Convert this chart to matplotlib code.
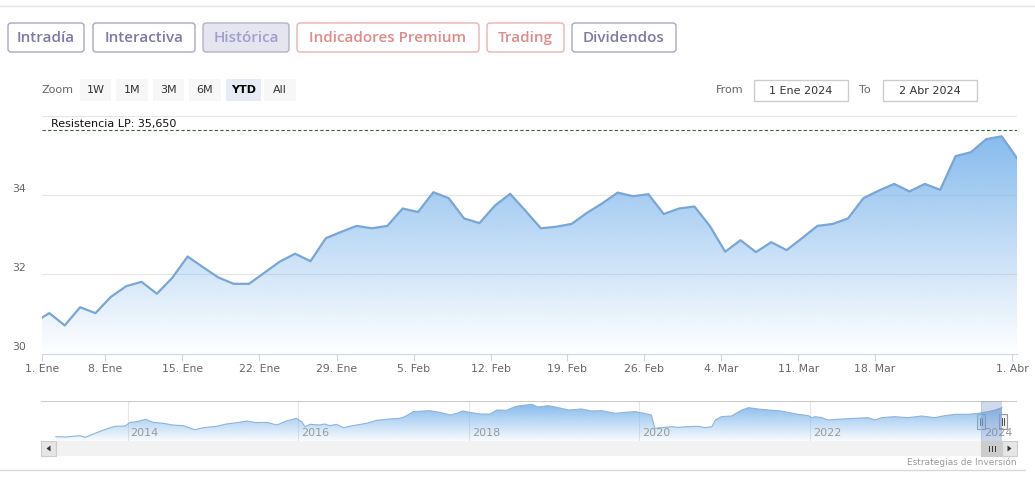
import numpy as np
import matplotlib.pyplot as plt
import matplotlib.colors as mcolors
from matplotlib.patches import Rectangle, FancyBboxPatch, Polygon

W, H = 1035, 480

# cierre diario por sesión (eje ordinal), 29 Dic 2023 -> 2 Abr 2024
precios = [30.79, 31.02, 30.71, 31.17, 31.02, 31.43, 31.70, 31.81, 31.51, 31.91,
           32.45, 32.18, 31.92, 31.76, 31.76, 32.04, 32.32, 32.52, 32.33, 32.91,
           33.07, 33.22, 33.16, 33.22, 33.66, 33.57, 34.07, 33.92, 33.41, 33.29,
           33.73, 34.03, 33.60, 33.16, 33.20, 33.27, 33.55, 33.79, 34.06, 33.97,
           34.02, 33.52, 33.66, 33.71, 33.22, 32.57, 32.86, 32.56, 32.81, 32.61,
           32.91, 33.22, 33.27, 33.41, 33.92, 34.11, 34.28, 34.09, 34.28, 34.13,
           34.98, 35.08, 35.41, 35.48, 34.93]
sesiones = np.arange(-1, len(precios) - 1)

tick_pos = [-0.5, 3.65, 8.66, 13.68, 18.72, 23.71, 28.73, 33.68, 38.70,
            43.74, 48.76, 53.75, 62.70]
tick_lbl = ["1. Ene", "8. Ene", "15. Ene", "22. Ene", "29. Ene", "5. Feb",
            "12. Feb", "19. Feb", "26. Feb", "4. Mar", "11. Mar", "18. Mar", "1. Abr"]
y_ticks = [30, 32, 34]
resistencia = 35.65

# navegador: histórico largo (año decimal, precio)
nav_anios = [2013.16, 2013.28, 2013.44, 2013.50, 2013.64, 2013.75, 2013.85, 2013.97,
             2014.03, 2014.11, 2014.21, 2014.30, 2014.42, 2014.53, 2014.65, 2014.79,
             2014.89, 2015.04, 2015.16, 2015.28, 2015.40, 2015.51, 2015.63, 2015.75,
             2015.86, 2015.98, 2016.04, 2016.08, 2016.14, 2016.25, 2016.31, 2016.37,
             2016.45, 2016.53, 2016.64, 2016.80, 2016.92, 2017.07, 2017.19, 2017.25,
             2017.35, 2017.54, 2017.66, 2017.78, 2017.86, 2017.93, 2018.01, 2018.13,
             2018.25, 2018.33, 2018.44, 2018.54, 2018.60, 2018.74, 2018.81, 2018.93,
             2019.05, 2019.17, 2019.32, 2019.44, 2019.56, 2019.71, 2019.83, 2019.95,
             2020.06, 2020.14, 2020.18, 2020.26, 2020.38, 2020.45, 2020.57, 2020.69,
             2020.77, 2020.85, 2020.89, 2020.96, 2021.08, 2021.20, 2021.28, 2021.39,
             2021.51, 2021.63, 2021.74, 2021.86, 2021.98, 2022.02, 2022.06, 2022.14,
             2022.21, 2022.37, 2022.53, 2022.68, 2022.76, 2022.84, 2022.99, 2023.15,
             2023.31, 2023.46, 2023.58, 2023.70, 2023.85, 2023.97, 2024.09, 2024.17,
             2024.25]
nav_precios = [17.6, 17.4, 18.2, 17.2, 20.0, 22.2, 23.8, 24.0, 26.2, 26.6, 28.0, 26.2,
               25.6, 24.6, 24.2, 21.8, 23.0, 23.8, 25.2, 26.0, 27.0, 26.0, 26.2, 24.6,
               27.0, 28.6, 26.6, 23.6, 25.0, 24.6, 25.2, 24.2, 25.0, 23.0, 24.2, 25.6,
               27.4, 28.2, 28.6, 29.6, 32.6, 33.2, 32.2, 30.6, 31.6, 33.0, 32.2, 31.2,
               31.2, 33.6, 33.4, 35.6, 36.2, 37.0, 35.4, 36.2, 35.0, 33.6, 34.2, 33.0,
               33.2, 31.6, 32.2, 32.6, 31.6, 30.6, 22.6, 23.0, 23.6, 23.2, 23.6, 23.8,
               23.0, 23.6, 27.6, 29.6, 30.0, 33.6, 35.0, 34.2, 33.6, 33.2, 32.2, 31.0,
               30.2, 29.0, 29.6, 29.0, 27.6, 28.2, 28.6, 29.0, 27.6, 29.0, 29.6, 29.0,
               30.0, 29.0, 30.2, 31.0, 31.0, 31.6, 32.6, 33.6, 35.0]
nav_ticks = [2014, 2016, 2018, 2020, 2022, 2024]
rango_sel = (2024.0, 2024.255)

botones = ["Intradía", "Interactiva", "Histórica", "Indicadores Premium", "Trading", "Dividendos"]
zoom_btns = ["1W", "1M", "3M", "6M", "YTD", "All"]

AZUL = "#7cb5ec"
LINEA = "#78a6d6"


def px_axes(fig, x0, y0, x1, y1):
    return fig.add_axes([x0 / W, 1 - y1 / H, (x1 - x0) / W, (y1 - y0) / H])


def relleno_degradado(ax, x, y, base, tope, color, a0=1.0, a1=0.0):
    poly = ax.fill_between(x, y, base, facecolor="none", edgecolor="none")
    path = poly.get_paths()[0]
    grad = np.zeros((256, 1, 4))
    grad[:, :, :3] = mcolors.to_rgb(color)
    grad[:, 0, 3] = np.linspace(a0, a1, 256)
    im = ax.imshow(grad, extent=[x[0], x[-1], base, tope], aspect="auto",
                   origin="upper", zorder=1, interpolation="bilinear")
    im.set_clip_path(path, transform=ax.transData)


fig = plt.figure(figsize=(W / 100, H / 100), dpi=100)
fig.patch.set_facecolor("white")

# capa de fondo en coordenadas de pixel
bg = px_axes(fig, 0, 0, W, H)
bg.set_xlim(0, W)
bg.set_ylim(H, 0)
bg.axis("off")
bg.set_zorder(0)

bg.plot([0, W], [6, 6], color="#e3e3e3", lw=1)
bg.plot([0, 1025], [470, 470], color="#d9d9d9", lw=1)

# botones superiores
bx = [(8, 84), (93, 195), (203, 289), (297, 479), (487, 564), (572, 676)]
morado, rosa = "#7d79a8", "#e08a8a"
for (x0, x1), txt in zip(bx, botones):
    if txt in ("Indicadores Premium", "Trading"):
        tc, ec, fc = rosa, "#e8b4b4", "white"
    elif txt == "Histórica":
        tc, ec, fc = "#a19ecf", "#b3b2c6", "#e4e5ee"
    else:
        tc, ec, fc = morado, "#a9a7bf", "white"
    bg.add_patch(FancyBboxPatch((x0, 23), x1 - x0, 29, boxstyle="round,pad=0,rounding_size=3",
                                fc=fc, ec=ec, lw=1))
    bg.text((x0 + x1) / 2, 38, txt, ha="center", va="center", fontsize=11,
            family="Open Sans", weight="semibold", color=tc)

# fila de zoom
bg.text(42, 90, "Zoom", ha="left", va="center", fontsize=8, color="#666666")
zx = [(80, 111), (116, 148), (153, 184), (189, 221), (226, 261), (264, 296)]
for (x0, x1), txt in zip(zx, zoom_btns):
    sel = txt == "YTD"
    bg.add_patch(Rectangle((x0, 79), x1 - x0, 22, fc="#e6ebf5" if sel else "#f7f7f7", ec="none"))
    bg.text((x0 + x1) / 2, 90, txt, ha="center", va="center", fontsize=8,
            color="#000000" if sel else "#333333", weight="bold" if sel else "normal")

bg.text(716, 90, "From", ha="left", va="center", fontsize=8, color="#666666")
bg.text(859, 90, "To", ha="left", va="center", fontsize=8, color="#666666")
for (x0, x1), txt in zip([(754, 848), (883, 977)], ["1 Ene 2024", "2 Abr 2024"]):
    bg.add_patch(Rectangle((x0, 80), x1 - x0, 21, fc="white", ec="#cccccc", lw=1))
    bg.text((x0 + x1) / 2, 90.5, txt, ha="center", va="center", fontsize=8, color="#333333")

# gráfico principal
ax = px_axes(fig, 41.7, 115.7, 1017, 353.6)
ax.set_zorder(2)
ax.patch.set_alpha(0)
relleno_degradado(ax, sesiones, precios, 30, 36, AZUL, 1.0, 0.0)
ax.plot(sesiones, precios, color=LINEA, lw=1.6, zorder=3, solid_joinstyle="round")
ax.axhline(resistencia, color="#2f6b2f", lw=0.8, ls=(0, (3, 2)), zorder=4)
ax.text(0.01, resistencia + 0.02, "Resistencia LP: 35,650", transform=ax.get_yaxis_transform(),
        ha="left", va="bottom", fontsize=8, color="#111111")
ax.set_xlim(-0.495, 63.0)
ax.set_ylim(30, 36)
ax.set_yticks([32, 34, 36])
ax.yaxis.grid(True, color="#e6e6e6", lw=0.8)
ax.set_axisbelow(True)
ax.tick_params(axis="y", length=0, labelleft=False)
ax.set_xticks(tick_pos, tick_lbl)
ax.tick_params(axis="x", length=5, width=0.8, color="#ccd6eb", labelcolor="#666666",
               labelsize=7.8, pad=2.5)
for s in ("top", "right", "left"):
    ax.spines[s].set_visible(False)
ax.spines["bottom"].set_color("#ccd6eb")
ax.spines["bottom"].set_linewidth(0.8)
for v in y_ticks:
    ax.annotate(str(v), xy=(0, v), xycoords=("axes fraction", "data"), xytext=(-29, 6.5),
                textcoords="offset pixels", ha="left", va="center", fontsize=7.8, color="#666666")

# navegador
nav = px_axes(fig, 41, 401, 1017, 441)
nav.set_zorder(2)
nav.patch.set_alpha(0)
relleno_degradado(nav, nav_anios, nav_precios, 15, 39, AZUL, 1.0, 0.05)
nav.plot(nav_anios, nav_precios, color="#8fb3da", lw=0.8, zorder=3)
nav.set_xlim(2012.985, 2024.426)
nav.set_ylim(15, 39)
nav.axis("off")
for yr in nav_ticks:
    nav.axvline(yr, color="#e6e6e6", lw=0.8, zorder=0)
    nav.annotate(str(yr), xy=(yr, 0.2), xycoords=("data", "axes fraction"), xytext=(3, 0),
                 textcoords="offset pixels", ha="left", va="center", fontsize=8, color="#999999")
nav.axhline(39, color="#cccccc", lw=0.8)
nav.add_patch(Rectangle((rango_sel[0], 0), rango_sel[1] - rango_sel[0], 1,
                        transform=nav.get_xaxis_transform(), fc=(102 / 255, 133 / 255, 194 / 255, 0.3),
                        ec="none", zorder=4))

# tiradores, barra de desplazamiento
for hx in (981, 1003):
    bg.add_patch(Rectangle((hx - 4, 414), 8, 15, fc="#f2f2f2", ec="#999999", lw=0.8, zorder=5))
    bg.plot([hx - 1, hx - 1], [418, 425], color="#333333", lw=0.6, zorder=6)
    bg.plot([hx + 1, hx + 1], [418, 425], color="#333333", lw=0.6, zorder=6)
bg.add_patch(Rectangle((41, 441), 976, 15, fc="#f2f2f2", ec="none"))
for x0 in (41, 1002):
    bg.add_patch(Rectangle((x0, 441), 15, 15, fc="#e6e6e6", ec="#cccccc", lw=0.8))
bg.add_patch(Polygon([[46.5, 448.5], [50.5, 445.5], [50.5, 451.5]], closed=True, fc="#333333"))
bg.add_patch(Polygon([[1011.5, 448.5], [1007.5, 445.5], [1007.5, 451.5]], closed=True, fc="#333333"))
bg.add_patch(Rectangle((981, 441), 21, 15, fc="#cccccc", ec="#cccccc", lw=0.8))
for gx in (988.5, 991.5, 994.5):
    bg.plot([gx, gx], [446, 451], color="#333333", lw=0.7)

bg.text(1017, 462, "Estrategias de Inversión", ha="right", va="center", fontsize=6.5, color="#999999")

fig.savefig("out.png", dpi=100, facecolor="white")
